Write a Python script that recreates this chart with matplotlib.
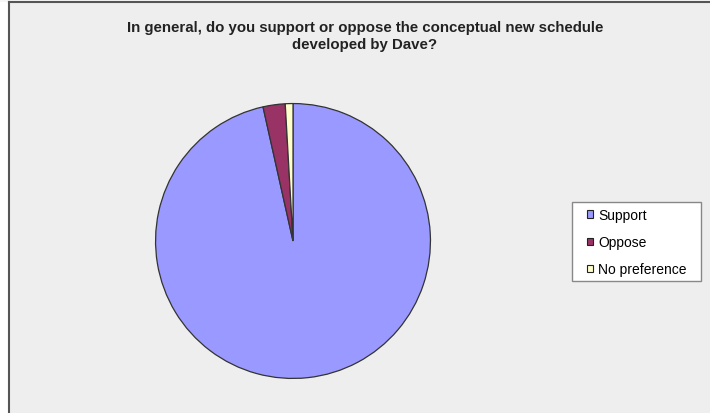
import matplotlib.pyplot as plt
from matplotlib.patches import Rectangle
from matplotlib.lines import Line2D

plt.rcParams['font.family'] = ['Liberation Sans', 'DejaVu Sans']

# survey answers (share of responses, %)
labels = ['Support', 'Oppose', 'No preference']
shares = [96.5, 2.6, 0.9]
colors = ['#9999FF', '#993366', '#FFFFCC']
title = 'In general, do you support or oppose the conceptual new schedule\ndeveloped by Dave?'

W, H = 710, 414
fig = plt.figure(figsize=(W / 100, H / 100), dpi=100, facecolor='#EEEEEE')

# white strips outside the chart area + dark left/top border
fig.patches.append(Rectangle((0, 0), 9 / W, 1, transform=fig.transFigure,
                             facecolor='white', edgecolor='none', zorder=-1))
fig.patches.append(Rectangle((0, 1 - 3 / H), 1, 3 / H, transform=fig.transFigure,
                             facecolor='#F6F6F6', edgecolor='none', zorder=-1))
fig.lines.append(Line2D([9 / W, 9 / W], [0, 1 - 3 / H], transform=fig.transFigure,
                        color='#555555', lw=1.5))
fig.lines.append(Line2D([9 / W, 1], [1 - 3 / H, 1 - 3 / H], transform=fig.transFigure,
                        color='#555555', lw=1.5))

fig.text(365 / W, 1 - 21 / H, title, ha='center', va='top', fontsize=10.8,
         fontweight='bold', color='#222222', linespacing=1.3)

# pie
cx, cy, r = 293, 242, 138
ax = fig.add_axes([(cx - r) / W, (H - cy - r) / H, 2 * r / W, 2 * r / H], zorder=2)
ax.pie(shares, colors=colors, startangle=90, counterclock=False,
       wedgeprops=dict(edgecolor='#333333', linewidth=0.9))
ax.set_xlim(-1.004, 1.004)
ax.set_ylim(-1.004, 1.004)
ax.set_aspect('equal')
ax.axis('off')

# legend box
fig.patches.append(Rectangle((572 / W, 1 - 282 / H), 129 / W, 79 / H, transform=fig.transFigure,
                             facecolor='white', edgecolor='#888888', linewidth=1, zorder=1))
handles = [Rectangle((0, 0), 1, 1, facecolor=c, edgecolor='#222222', linewidth=0.8) for c in colors]
fig.legend(handles, labels, loc='upper left', bbox_to_anchor=(587 / W, 1 - 209 / H),
           frameon=False, borderpad=0, borderaxespad=0, fontsize=10,
           handlelength=0.45, handleheight=0.45, handletextpad=0.35, labelspacing=0.95)

fig.savefig('out.png', dpi=100, facecolor=fig.get_facecolor())
